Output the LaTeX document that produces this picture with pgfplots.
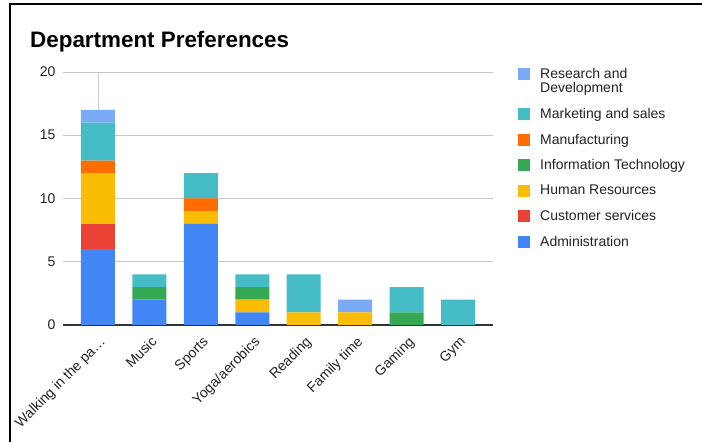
\documentclass[border=0pt]{standalone}
\usepackage{fontspec}
\setmainfont{Liberation Sans}
\usepackage{pgfplots}
\usepackage{pgfplotstable}
\pgfplotsset{compat=1.18}
\definecolor{cAdm}{HTML}{4285F4}
\definecolor{cCS}{HTML}{EA4335}
\definecolor{cHR}{HTML}{FBBC04}
\definecolor{cIT}{HTML}{34A853}
\definecolor{cMfg}{HTML}{FF6D01}
\definecolor{cMkt}{HTML}{46BDC6}
\definecolor{cRD}{HTML}{7BAAF7}
\definecolor{txt}{HTML}{222222}
\pgfplotsset{
  sqlegend/.style={legend image code/.code={\draw[##1, draw=none] (0pt,-6pt) rectangle (12pt,6pt); \path (20pt,0pt);}},
  sqlegendup/.style={legend image code/.code={\draw[##1, draw=none] (0pt,1pt) rectangle (12pt,13pt); \path (20pt,0pt);}},
}
\pgfplotstableread{
x adm cs hr it mfg mkt rd
0 6 2 4 0 1 3 1
1 2 0 0 1 0 1 0
2 8 0 1 0 1 2 0
3 1 0 1 1 0 1 0
4 0 0 1 0 0 3 0
5 0 0 1 0 0 0 1
6 0 0 0 1 0 2 0
7 0 0 0 0 0 2 0
}\data
\begin{document}
\begin{tikzpicture}[x=1pt,y=1pt]
\path[use as bounding box] (0,0) rectangle (702,442);
\draw[line width=1.5pt] (10,0) -- (10,438) -- (702,438);
\node[anchor=base west, inner sep=0pt, font=\fontsize{22.4}{26}\selectfont\bfseries, text=black] at (30,394) {Department Preferences};
\begin{axis}[
  at={(63pt,117pt)}, anchor=south west,
  scale only axis, width=430pt, height=253pt,
  ybar stacked, bar width=34pt,
  xmin=-0.68, xmax=7.68, ymin=0, ymax=20,
  xtick={0,...,7},
  xticklabels={Walking in the pa…,Music,Sports,Yoga/aerobics,Reading,Family time,Gaming,Gym},
  ytick={5,10,15,20},
  extra y ticks={0},
  extra y tick style={grid style={draw=black!80, line width=1.3pt}},
  ymajorgrids, grid style={draw=black!22, line width=0.8pt},
  axis line style={draw=none},
  major tick length=0pt,
  /pgf/number format/assume math mode=true,
  ticklabel style={font=\fontsize{14}{16}\selectfont, text=txt},
  yticklabel style={anchor=east, xshift=-4pt},
  xticklabel style={xshift=1pt, yshift=-9pt, rotate=45, anchor=north east, inner sep=1pt},
  reverse legend,
  legend style={at={(1,1)}, anchor=north west, xshift=22pt, yshift=8pt, draw=none, fill=none,
    font=\fontsize{14}{14.5}\selectfont, text=txt, row sep=10pt,
    cells={anchor=west, align=left}},
  sqlegend,
]
\addplot[fill=cAdm, draw=none] table[x=x, y=adm] {\data};
\addplot[fill=cCS, draw=none] table[x=x, y=cs] {\data};
\addplot[fill=cHR, draw=none] table[x=x, y=hr] {\data};
\addplot[fill=cIT, draw=none] table[x=x, y=it] {\data};
\addplot[fill=cMfg, draw=none] table[x=x, y=mfg] {\data};
\addplot[fill=cMkt, draw=none] table[x=x, y=mkt] {\data};
\addplot[fill=cRD, draw=none, sqlegendup] table[x=x, y=rd] {\data};
\legend{Administration,Customer services,Human Resources,Information Technology,Manufacturing,Marketing and sales,Research and\\Development}
\draw[black!20, line width=0.8pt] (axis cs:0,17) -- (axis cs:0,20);
\node[rotate=-90, font=\fontsize{12}{12}\selectfont, text=black!80, fill=white, fill opacity=0.6, text opacity=1, inner sep=0.5pt] at (axis cs:0.21,10) {2};
\end{axis}
\end{tikzpicture}
\end{document}
